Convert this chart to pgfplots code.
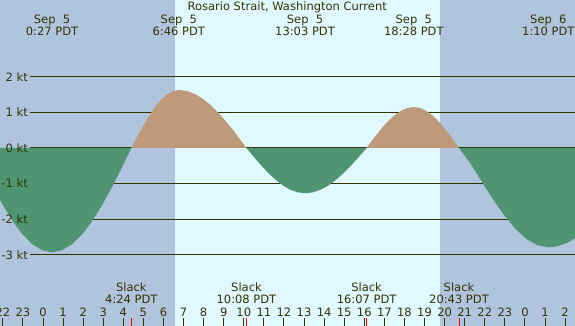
\documentclass[border=0pt]{standalone}
\usepackage{pgfplots}
\pgfplotsset{compat=1.18}
\usepackage{fontspec}
\setmainfont{DejaVu Sans}
\definecolor{night}{RGB}{176,196,222}
\definecolor{day}{RGB}{224,248,255}
\definecolor{flood}{RGB}{190,154,122}
\definecolor{ebb}{RGB}{80,149,114}
\definecolor{ink}{RGB}{51,51,0}
\begin{document}
\begin{tikzpicture}[font=\fontsize{11.5bp}{13bp}\selectfont]
\begin{axis}[
  scale only axis, width=575bp, height=326bp,
  xmin=-2.1414, xmax=26.494, ymin=-5.0, ymax=4.157,
  axis line style={draw=none},
  axis background/.style={fill=night},
  axis on top,
  ytick=\empty,
  xtick={-2,...,26},
  xticklabels={22,23,0,1,2,3,4,5,6,7,8,9,10,11,12,13,14,15,16,17,18,19,20,21,22,23,0,1,2},
  xtick pos=left,
  tick align=inside,
  major tick length=8bp,
  x tick style={color=ink, line width=1bp},
  xticklabel style={anchor=base, yshift=10bp, inner sep=0pt, text=ink},
  extra x ticks={0,24}, extra x tick labels={},
  extra x tick style={major tick style={line width=4bp, color=black}},
  clip=true,
]
% daylight
\addplot[fill=day, draw=none] coordinates {(6.574,-5.0) (19.771,-5.0) (19.771,4.157) (6.574,4.157)} -- cycle;
% grid lines
\addplot[ink, line width=1bp] coordinates {(-0.647,2) (26.6,2)};
\addplot[ink, line width=1bp] coordinates {(-0.647,1) (26.6,1)};
\addplot[ink, line width=1bp] coordinates {(-0.647,0) (26.6,0)};
\addplot[ink, line width=1bp] coordinates {(-0.647,-1) (26.6,-1)};
\addplot[ink, line width=1bp] coordinates {(-0.647,-2) (26.6,-2)};
\addplot[ink, line width=1bp] coordinates {(-0.647,-3) (26.6,-3)};
% ebb 1
\addplot[fill=ebb, draw=none] coordinates {(-2.15,-1.456) (-1.5,-2.068) (-1.0,-2.442) (-0.5,-2.717) (0,-2.882) (0.45,-2.93) (0.944,-2.874) (1.438,-2.707) (1.931,-2.436) (2.425,-2.072) (2.919,-1.628) (3.413,-1.121) (3.906,-0.572) (4.40,0)} \closedcycle;
% flood 1
\addplot[fill=flood, draw=none] coordinates {(4.40,0) (4.696,0.318) (4.992,0.624) (5.288,0.906) (5.583,1.153) (5.879,1.355) (6.175,1.506) (6.471,1.599) (6.767,1.63) (7.188,1.599) (7.609,1.506) (8.030,1.355) (8.451,1.153) (8.871,0.906) (9.292,0.624) (9.713,0.318) (10.133,0)} \closedcycle;
% ebb 2
\addplot[fill=ebb, draw=none] coordinates {(10.133,0) (10.498,-0.248) (10.862,-0.486) (11.227,-0.706) (11.592,-0.898) (11.956,-1.056) (12.321,-1.173) (12.685,-1.246) (13.05,-1.27) (13.433,-1.246) (13.817,-1.173) (14.20,-1.056) (14.583,-0.898) (14.967,-0.706) (15.35,-0.486) (15.733,-0.248) (16.117,0)} \closedcycle;
% flood 2
\addplot[fill=flood, draw=none] coordinates {(16.117,0) (16.411,0.224) (16.704,0.440) (16.998,0.639) (17.292,0.813) (17.586,0.956) (17.879,1.062) (18.173,1.128) (18.467,1.15) (18.748,1.128) (19.029,1.062) (19.311,0.956) (19.592,0.813) (19.873,0.639) (20.154,0.440) (20.436,0.224) (20.717,0)} \closedcycle;
% ebb 3
\addplot[fill=ebb, draw=none] coordinates {(20.717,0) (21.273,-0.426) (21.829,-0.925) (22.386,-1.419) (22.942,-1.873) (23.498,-2.257) (24.054,-2.547) (24.611,-2.728) (25.167,-2.79) (25.6,-2.763) (26.1,-2.667) (26.6,-2.50)} \closedcycle;
% slack ticks
\addplot[red, line width=1bp] coordinates {(4.40,-5.0) (4.40,-4.775)};
\addplot[red, line width=1bp] coordinates {(10.133,-5.0) (10.133,-4.775)};
\addplot[red, line width=1bp] coordinates {(16.117,-5.0) (16.117,-4.775)};
\addplot[red, line width=1bp] coordinates {(20.717,-5.0) (20.717,-4.775)};
% texts
\node[anchor=base, text=ink] at (axis cs:12.16,3.862) {Rosario Strait, Washington Current};
\node[anchor=base, text=ink] at (axis cs:0.45,3.497) {Sep\ \ 5};
\node[anchor=base, text=ink] at (axis cs:0.45,3.146) {0:27 PDT};
\node[anchor=base, text=ink] at (axis cs:6.767,3.497) {Sep\ \ 5};
\node[anchor=base, text=ink] at (axis cs:6.767,3.146) {6:46 PDT};
\node[anchor=base, text=ink] at (axis cs:13.05,3.497) {Sep\ \ 5};
\node[anchor=base, text=ink] at (axis cs:13.05,3.146) {13:03 PDT};
\node[anchor=base, text=ink] at (axis cs:18.467,3.497) {Sep\ \ 5};
\node[anchor=base, text=ink] at (axis cs:18.467,3.146) {18:28 PDT};
\node[anchor=base, text=ink] at (axis cs:25.167,3.497) {Sep\ \ 6};
\node[anchor=base, text=ink] at (axis cs:25.167,3.146) {1:10 PDT};
\node[anchor=base, text=ink] at (axis cs:4.40,-4.031) {Slack};
\node[anchor=base, text=ink] at (axis cs:4.40,-4.368) {4:24 PDT};
\node[anchor=base, text=ink] at (axis cs:10.133,-4.031) {Slack};
\node[anchor=base, text=ink] at (axis cs:10.133,-4.368) {10:08 PDT};
\node[anchor=base, text=ink] at (axis cs:16.117,-4.031) {Slack};
\node[anchor=base, text=ink] at (axis cs:16.117,-4.368) {16:07 PDT};
\node[anchor=base, text=ink] at (axis cs:20.717,-4.031) {Slack};
\node[anchor=base, text=ink] at (axis cs:20.717,-4.368) {20:43 PDT};
\node[anchor=east, inner sep=0pt, text=ink] at (axis cs:-0.747,2) {2 kt};
\node[anchor=east, inner sep=0pt, text=ink] at (axis cs:-0.747,1) {1 kt};
\node[anchor=east, inner sep=0pt, text=ink] at (axis cs:-0.747,0) {0 kt};
\node[anchor=east, inner sep=0pt, text=ink] at (axis cs:-0.747,-1) {-1 kt};
\node[anchor=east, inner sep=0pt, text=ink] at (axis cs:-0.747,-2) {-2 kt};
\node[anchor=east, inner sep=0pt, text=ink] at (axis cs:-0.747,-3) {-3 kt};
\end{axis}
\pgfresetboundingbox
\path[use as bounding box] (current axis.south west) rectangle (current axis.north east);
\end{tikzpicture}
\end{document}
